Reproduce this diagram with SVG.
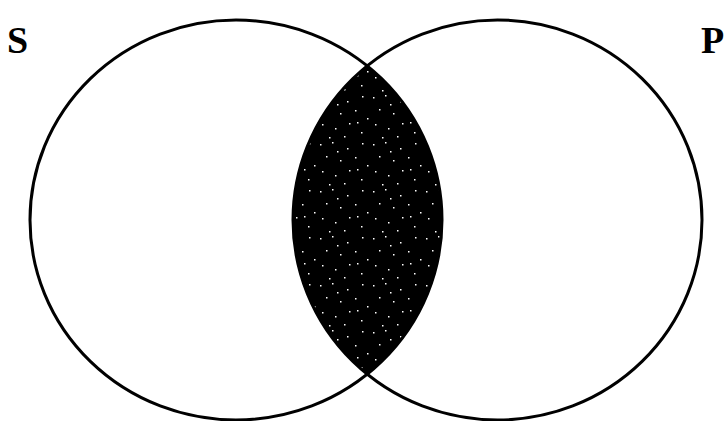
<svg xmlns="http://www.w3.org/2000/svg" width="725" height="421" viewBox="0 0 725 421">
<style>
.set{fill:none;stroke:#000;stroke-width:3}
.lbl{font-family:"Liberation Serif","Times New Roman",serif;font-weight:bold;font-size:38px;fill:#000}
</style>
<defs>
<pattern id="speckle" width="53" height="47" patternUnits="userSpaceOnUse">
<rect width="53" height="47" fill="#000"/>
<g fill="#fff">
<rect x="2" y="3" width="1.5" height="1.5"/>
<rect x="14" y="1" width="1.5" height="1.5"/>
<rect x="29" y="7" width="1.5" height="1.5"/>
<rect x="44" y="2" width="1.5" height="1.5"/>
<rect x="8" y="15" width="1.5" height="1.5"/>
<rect x="22" y="19" width="1.5" height="1.5"/>
<rect x="37" y="16" width="1.5" height="1.5"/>
<rect x="49" y="24" width="1.5" height="1.5"/>
<rect x="4" y="30" width="1.5" height="1.5"/>
<rect x="17" y="34" width="1.5" height="1.5"/>
<rect x="31" y="29" width="1.5" height="1.5"/>
<rect x="43" y="38" width="1.5" height="1.5"/>
<rect x="11" y="43" width="1.5" height="1.5"/>
<rect x="26" y="42" width="1.5" height="1.5"/>
<rect x="39" y="28" width="1.5" height="1.5"/>
<rect x="19" y="10" width="1.5" height="1.5"/>
</g>
</pattern>
</defs>
<g id="lens">
<path d="M367.2 65.8 A206 200 0 0 1 367.2 374.2 A204.5 200 0 0 1 367.2 65.8 Z" fill="url(#speckle)"/>
</g>
<g id="S">
<ellipse class="set" cx="236" cy="220" rx="206" ry="200"/>
<text class="lbl" x="7" y="53">S</text>
</g>
<g id="P">
<ellipse class="set" cx="497.5" cy="220" rx="204.5" ry="200"/>
<text class="lbl" x="701" y="53">P</text>
</g>
</svg>
